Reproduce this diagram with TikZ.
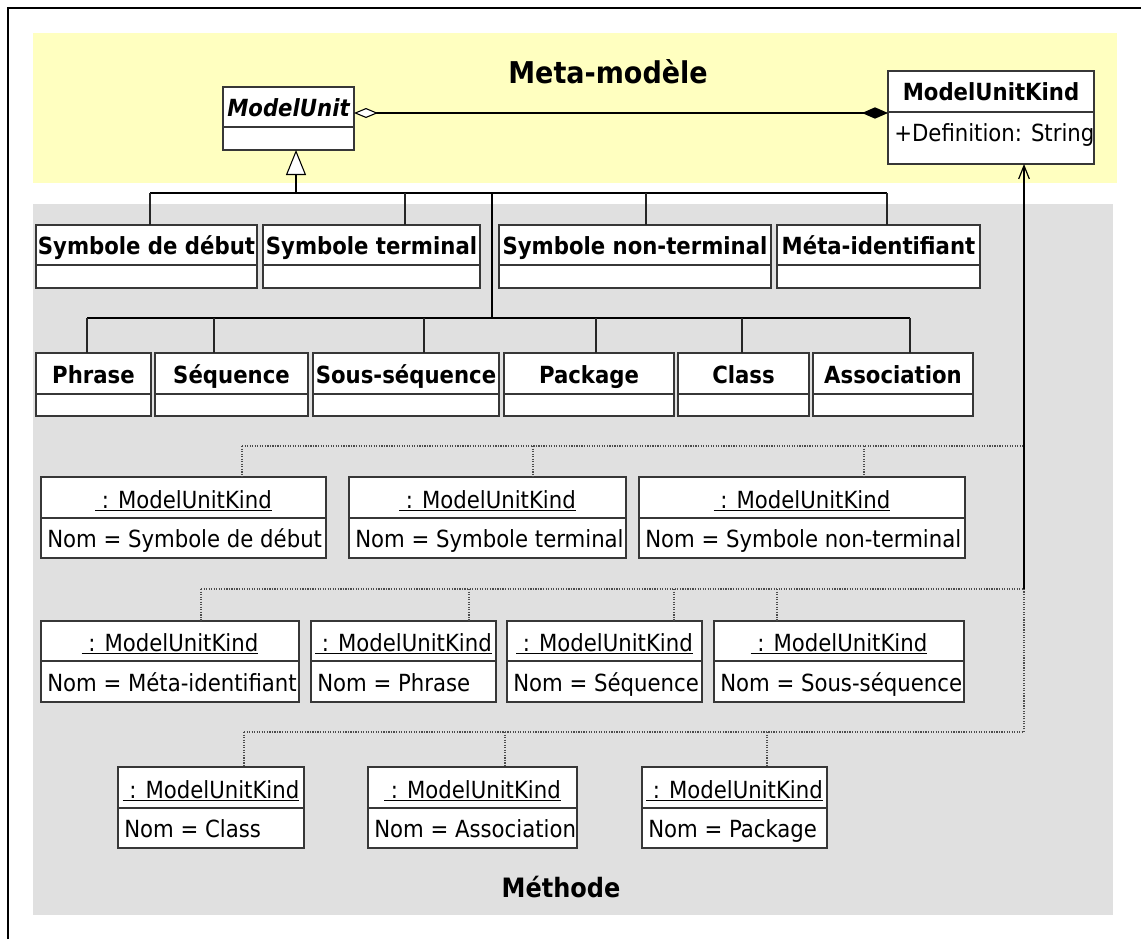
\documentclass[tikz,border=0pt]{standalone}
\usepackage{fontspec}
\setmainfont{DejaVu Sans Condensed}
\usetikzlibrary{arrows.meta}

\definecolor{metabg}{RGB}{255,255,192}
\definecolor{methbg}{RGB}{224,224,224}
\definecolor{boxedge}{RGB}{55,55,55}

\tikzset{
  boxshape/.style={draw=boxedge, fill=white, line width=0.9pt, inner sep=0pt, outer sep=0pt, anchor=north west},
  divider/.style={draw=boxedge, line width=0.9pt},
  classname/.style={font=\fontsize{17.7}{20}\selectfont\bfseries, anchor=base, inner sep=0pt},
  objname/.style={font=\fontsize{17.7}{20}\selectfont, anchor=base, inner sep=0pt},
  attrtext/.style={font=\fontsize{17.7}{20}\selectfont, anchor=base west, inner sep=0pt},
  areatitle/.style={font=\fontsize{22.5}{26}\selectfont\bfseries, anchor=base, inner sep=0pt},
  bar/.style={draw=black, line width=1.3pt},
  drop/.style={draw=black!85, line width=0.9pt},
  dep/.style={draw=black!70, line width=0.9pt, densely dotted},
  inst/.style={draw=black, line width=1.2pt},
}

% class box: name, x1, y1, x2, y of divider, y2, label
\newcommand{\umlclass}[7]{%
  \node[boxshape, minimum width={(#4-#2)*0.75pt}, minimum height={(#6-#3)*0.75pt}] (#1) at (#2,#3) {};
  \draw[divider] (#2,#5) -- (#4,#5);
  \node[classname] (#1-name) at ({(#2+#4)/2},{#5-10.5}) {#7};
}
% object box: name, x1, y1, x2, y of divider, y2, value of Nom
\newcommand{\umlobject}[7]{%
  \node[boxshape, minimum width={(#4-#2)*0.75pt}, minimum height={(#6-#3)*0.75pt}] (#1) at (#2,#3) {};
  \draw[divider] (#2,#5) -- (#4,#5);
  \node[objname] (#1-name) at ({(#2+#4)/2},{#5-10}) {\underline{\ : ModelUnitKind}};
  \node[attrtext] (#1-attr) at ({#2+6},{#6-11}) {Nom = #7};
}

\begin{document}
\begin{tikzpicture}[x=0.75pt, y=-0.75pt]
\useasboundingbox (0,0) rectangle (1141,939);

% outer frame (left and top edges)
\draw[line width=1.5pt] (8,939) -- (8,8) -- (1141,8);

% the two areas
\fill[metabg] (32.5,33) rectangle (1117,183);
\fill[methbg] (32.5,204) rectangle (1113,915);
\node[areatitle] (metatitle) at (608,83) {Meta-modèle};
\node[areatitle, font=\fontsize{20}{24}\selectfont\bfseries] (methtitle) at (561,897) {Méthode};

% meta-model classes
\node[boxshape, minimum width={(354-223)*0.75pt}, minimum height={(150-87)*0.75pt}] (mu) at (223,87) {};
\draw[divider] (223,127) -- (354,127);
\node[classname, font=\fontsize{17.7}{20}\selectfont\bfseries\itshape] (mu-name) at (288.5,116.5) {ModelUnit};

\node[boxshape, minimum width={(1094-888)*0.75pt}, minimum height={(164-71)*0.75pt}] (muk) at (888,71) {};
\draw[divider] (888,112) -- (1094,112);
\node[classname] (muk-name) at (991,100) {ModelUnitKind};
\node[attrtext] (muk-attr) at (894,141.5) {+Definition: String};

% method classes, first row
\umlclass{sdeb}{36}{225}{257}{265}{288}{Symbole de début}
\umlclass{sterm}{263}{225}{480}{265}{288}{Symbole terminal}
\umlclass{snont}{499}{225}{771}{265}{288}{Symbole non-terminal}
\umlclass{metaid}{777}{225}{980}{265}{288}{Méta-identifiant}

% method classes, second row
\umlclass{phrase}{36}{353}{151}{394}{416}{Phrase}
\umlclass{seq}{155}{353}{308}{394}{416}{Séquence}
\umlclass{sseq}{313}{353}{499}{394}{416}{Sous-séquence}
\umlclass{pkg}{504}{353}{674}{394}{416}{Package}
\umlclass{cls}{678}{353}{809}{394}{416}{Class}
\umlclass{assoc}{813}{353}{973}{394}{416}{Association}

% instances of ModelUnitKind
\umlobject{o1}{41}{477}{326}{518}{558}{Symbole de début}
\umlobject{o2}{349}{477}{626}{518}{558}{Symbole terminal}
\umlobject{o3}{639}{477}{965}{518}{558}{Symbole non-terminal}
\umlobject{o4}{41}{621}{299}{661}{702}{Méta-identifiant}
\umlobject{o5}{311}{621}{496}{661}{702}{Phrase}
\umlobject{o6}{507}{621}{702}{661}{702}{Séquence}
\umlobject{o7}{714}{621}{964}{661}{702}{Sous-séquence}
\umlobject{o8}{118}{767}{304}{808}{848}{Class}
\umlobject{o9}{368}{767}{577}{808}{848}{Association}
\umlobject{o10}{642}{767}{827}{808}{848}{Package}

% aggregation / composition between ModelUnit and ModelUnitKind
\coordinate (aggy) at (0,113);
\draw[draw=black, line width=0.9pt,
      {Diamond[open, fill=white, length=18pt, width=7.5pt, line width=0.8pt]}-{Diamond[length=19.5pt, width=8.5pt]}]
  (mu.east |- aggy) -- (muk.west |- aggy);

% generalisation tree
\coordinate (gen) at (296,193);
\draw[line width=1.5pt, -{Triangle[open, fill=white, length=18.75pt, width=15pt, line width=0.8pt]}] (gen) -- (gen |- mu.south);
\coordinate (b1) at (150,193);
\coordinate (b2) at (405,193);
\coordinate (b3) at (492,193);
\coordinate (b4) at (646,193);
\coordinate (b5) at (887,193);
\draw[bar] (b1) -- (b5);
\draw[drop] (b1) -- (b1 |- sdeb.north);
\draw[drop] (b2) -- (b2 |- sterm.north);
\draw[drop] (b4) -- (b4 |- snont.north);
\draw[drop] (b5) -- (b5 |- metaid.north);

\coordinate (r0) at (492,318);
\coordinate (r1) at (87,318);
\coordinate (r2) at (214,318);
\coordinate (r3) at (424,318);
\coordinate (r4) at (596,318);
\coordinate (r5) at (742,318);
\coordinate (r6) at (910,318);
\draw[bar] (b3) -- (r0);
\draw[bar] (r1) -- (r6);
\draw[drop] (r1) -- (r1 |- phrase.north);
\draw[drop] (r2) -- (r2 |- seq.north);
\draw[drop] (r3) -- (r3 |- sseq.north);
\draw[drop] (r4) -- (r4 |- pkg.north);
\draw[drop] (r5) -- (r5 |- cls.north);
\draw[drop] (r6) -- (r6 |- assoc.north);

% instance-of links
\coordinate (k1) at (1024,446);
\coordinate (k2) at (1024,589);
\coordinate (k3) at (1024,732);
\draw[inst, -{Straight Barb[length=10pt, width=8pt, line width=0.9pt]}] (k2) -- (muk.south -| k2);
\draw[dep] (k3) -- (k2);

\coordinate (d1) at (242,446);
\coordinate (d2) at (533,446);
\coordinate (d3) at (864,446);
\draw[dep] (d1) -- (k1);
\draw[dep] (d1) -- (d1 |- o1.north);
\draw[dep] (d2) -- (d2 |- o2.north);
\draw[dep] (d3) -- (d3 |- o3.north);

\coordinate (e1) at (201,589);
\coordinate (e2) at (469,589);
\coordinate (e3) at (674,589);
\coordinate (e4) at (777,589);
\draw[dep] (e1) -- (k2);
\draw[dep] (e1) -- (e1 |- o4.north);
\draw[dep] (e2) -- (e2 |- o5.north);
\draw[dep] (e3) -- (e3 |- o6.north);
\draw[dep] (e4) -- (e4 |- o7.north);

\coordinate (f1) at (244,732);
\coordinate (f2) at (505,732);
\coordinate (f3) at (767,732);
\draw[dep] (f1) -- (k3);
\draw[dep] (f1) -- (f1 |- o8.north);
\draw[dep] (f2) -- (f2 |- o9.north);
\draw[dep] (f3) -- (f3 |- o10.north);
\end{tikzpicture}
\end{document}
